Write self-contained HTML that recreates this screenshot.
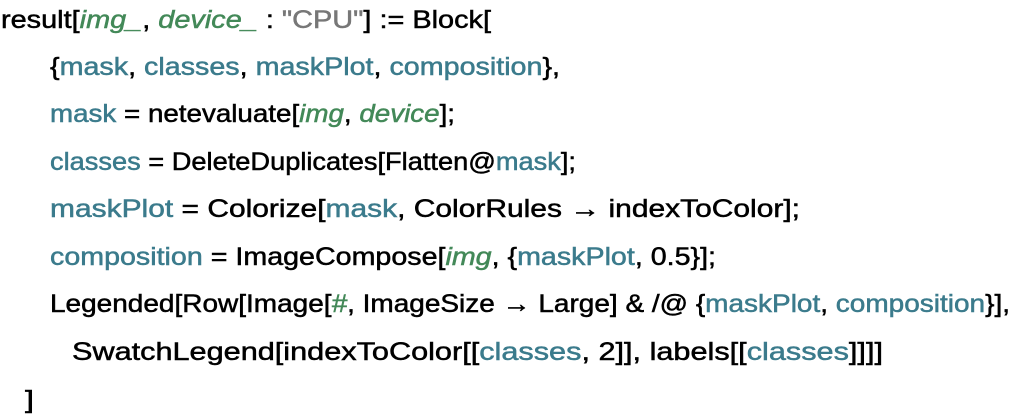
<!DOCTYPE html>
<html><head><meta charset="utf-8"><style>
html,body{margin:0;padding:0;background:#fff;width:1012px;height:414px;overflow:hidden}
.l{position:absolute;white-space:pre;font-family:"Liberation Sans",sans-serif;font-size:25px;line-height:30px;color:#000;-webkit-text-stroke:0.5px currentColor;transform-origin:0 50%}
.t{color:#3b7b8c}.g{color:#438958;font-style:italic}.s{color:#777}
</style></head><body>
<div class="l" data-w="490" style="left:1px;top:5px">result[<span class="g">img_</span>, <span class="g">device_</span> : <span class="s">"CPU"</span>] := Block[</div>
<div class="l" data-w="510" style="left:50px;top:52px">{<span class="t">mask</span>, <span class="t">classes</span>, <span class="t">maskPlot</span>, <span class="t">composition</span>},</div>
<div class="l" data-w="405" style="left:50px;top:99px"><span class="t">mask</span> = netevaluate[<span class="g">img</span>, <span class="g">device</span>];</div>
<div class="l" data-w="526" style="left:50px;top:147px"><span class="t">classes</span> = DeleteDuplicates[Flatten@<span class="t">mask</span>];</div>
<div class="l" data-w="750" style="left:50px;top:194px"><span class="t">maskPlot</span> = Colorize[<span class="t">mask</span>, ColorRules → indexToColor];</div>
<div class="l" data-w="666" style="left:50px;top:242px"><span class="t">composition</span> = ImageCompose[<span class="g">img</span>, {<span class="t">maskPlot</span>, 0.5}];</div>
<div class="l" data-w="960" style="left:50px;top:289px">Legended[Row[Image[<span class="g">#</span>, ImageSize → Large] &amp; /@ {<span class="t">maskPlot</span>, <span class="t">composition</span>}],</div>
<div class="l" data-w="811" style="left:72px;top:337px">SwatchLegend[indexToColor[[<span class="t">classes</span>, 2]], labels[[<span class="t">classes</span>]]]]</div>
<div class="l" data-w="9" style="left:25px;top:385px">]</div>
<script>
document.querySelectorAll('.l').forEach(function(e){var w=e.getBoundingClientRect().width,t=+e.dataset.w;if(w>0)e.style.transform='scaleX('+(t/w)+')';});
</script>
</body></html>
